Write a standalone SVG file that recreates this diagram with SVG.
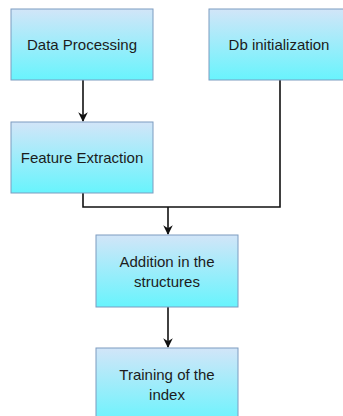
<svg xmlns="http://www.w3.org/2000/svg" width="343" height="416" viewBox="0 0 343 416">
<style>
.box{fill:url(#g);stroke:#7d9cc0;stroke-width:1}
.lbl{font-family:"Liberation Sans",Arial,sans-serif;font-size:15px;fill:#1c1c1c;text-anchor:middle}
.edge{fill:none;stroke:#111;stroke-width:1.6}
</style>
<defs>
<linearGradient id="g" x1="0" y1="0" x2="0" y2="1">
<stop offset="0" stop-color="#d2e5f8"/>
<stop offset="1" stop-color="#68f4fd"/>
</linearGradient>
<marker id="ar" viewBox="0 0 10 10" refX="9" refY="5" markerWidth="6" markerHeight="6" orient="auto" markerUnits="strokeWidth">
<path d="M0,0 L10,5 L0,10 L3,5 Z" fill="#111"/>
</marker>
</defs>
<rect width="343" height="416" fill="#fff"/>
<g id="connectors">
<path class="edge" d="M83,80 V121" marker-end="url(#ar)"/>
<path class="edge" d="M83,193 V207 H280 V80"/>
<path class="edge" d="M168,207 V234" marker-end="url(#ar)"/>
<path class="edge" d="M168,307 V347" marker-end="url(#ar)"/>
</g>
<g id="data-processing">
<rect class="box" x="11" y="9" width="142" height="71"/>
<text class="lbl" x="82" y="50">Data Processing</text>
</g>
<g id="db-initialization">
<rect class="box" x="209" y="9" width="140" height="71"/>
<text class="lbl" x="279" y="50">Db initialization</text>
</g>
<g id="feature-extraction">
<rect class="box" x="11" y="122" width="142" height="71"/>
<text class="lbl" x="82" y="163">Feature Extraction</text>
</g>
<g id="addition">
<rect class="box" x="96" y="235" width="142" height="72"/>
<text class="lbl" x="167" y="267">Addition in the</text>
<text class="lbl" x="167" y="287">structures</text>
</g>
<g id="training">
<rect class="box" x="96" y="348" width="142" height="76"/>
<text class="lbl" x="167" y="380">Training of the</text>
<text class="lbl" x="167" y="400">index</text>
</g>
</svg>
